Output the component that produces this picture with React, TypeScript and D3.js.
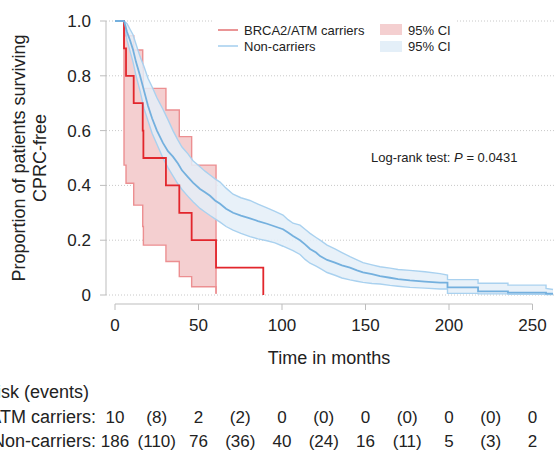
import React from "react";
import * as d3 from "d3";

const W = 556;
const H = 450;

// BRCA2/ATM carriers (n = 10), Kaplan-Meier steps
const carrierTime = [0, 5.4, 6.6, 11.2, 16.6, 17.0, 30.5, 38.5, 45.9, 60.5, 88.8];
const carrierSurv = [1, 0.9, 0.8, 0.7, 0.6, 0.5, 0.4, 0.3, 0.2, 0.1, 0];
const carrierCiTime = [0, 5.4, 6.6, 11.2, 16.6, 17.0, 30.5, 38.5, 45.9, 60.5];
const carrierUpper = [1, 0.985, 0.946, 0.894, 0.83, 0.754, 0.675, 0.578, 0.474, 0.005];
const carrierLower = [1, 0.474, 0.408, 0.328, 0.25, 0.182, 0.122, 0.067, 0.03, 0.005];

// Non-carriers (n = 186)
const ncTime = [
  0, 5.4, 7.2, 9.0, 10.8, 12.6, 15.0, 17.4, 19.8, 22.2, 25.1, 28.7, 31.7, 34.7, 37.7,
  40.1, 43.7, 46.7, 50.9, 53.9, 56.9, 59.9, 62.9, 66.5, 70.7, 75.4, 80.8, 85.6, 91.0,
  95.8, 100.6, 103.6, 106.6, 110.8, 113.8, 116.8, 120.4, 122.8, 127.0, 131.7, 135.9,
  140.7, 144.9, 148.5, 153.9, 158.7, 164.7, 169.5, 176.6, 185.6, 194.6, 199.1, 199.1,
  217.4, 217.4, 235.3, 235.3, 258.1, 258.1, 262.3,
];
const ncSurv = [
  1, 1, 0.96, 0.93, 0.895, 0.85, 0.8, 0.745, 0.69, 0.645, 0.6, 0.555, 0.525, 0.505, 0.48,
  0.455, 0.43, 0.41, 0.387, 0.375, 0.362, 0.345, 0.333, 0.315, 0.3, 0.29, 0.28, 0.27, 0.26,
  0.25, 0.24, 0.228, 0.215, 0.2, 0.185, 0.168, 0.155, 0.142, 0.128, 0.118, 0.108,
  0.1, 0.09, 0.083, 0.076, 0.069, 0.063, 0.058, 0.053, 0.049, 0.045, 0.045, 0.028,
  0.028, 0.013, 0.013, 0.009, 0.009, 0.005, 0.005,
];
const ncUpper = [
  1, 1, 0.99, 0.97, 0.95, 0.915, 0.87, 0.833, 0.79, 0.76, 0.72, 0.678, 0.64, 0.6, 0.565,
  0.54, 0.515, 0.49, 0.468, 0.452, 0.438, 0.424, 0.412, 0.39, 0.368, 0.355, 0.345, 0.332, 0.318,
  0.305, 0.292, 0.275, 0.262, 0.255, 0.24, 0.225, 0.21, 0.2, 0.182, 0.168, 0.155,
  0.14, 0.128, 0.118, 0.11, 0.103, 0.098, 0.093, 0.09, 0.085, 0.078, 0.073, 0.056,
  0.056, 0.043, 0.043, 0.036, 0.036, 0.024, 0.02,
];
const ncLower = [
  1, 1, 0.93, 0.89, 0.85, 0.8, 0.745, 0.68, 0.635, 0.59, 0.55, 0.5, 0.465, 0.435, 0.405,
  0.385, 0.36, 0.34, 0.316, 0.303, 0.29, 0.278, 0.266, 0.25, 0.237, 0.225, 0.213, 0.205, 0.198,
  0.19, 0.178, 0.17, 0.162, 0.148, 0.13, 0.116, 0.105, 0.097, 0.082, 0.072, 0.062,
  0.055, 0.05, 0.046, 0.042, 0.04, 0.035, 0.032, 0.028, 0.025, 0.022, 0.022, 0.006,
  0.006, 0.004, 0.004, 0.003, 0.003, 0.002, 0.002,
];

const xTicks = [0, 50, 100, 150, 200, 250];
const yTicks = [0, 0.2, 0.4, 0.6, 0.8, 1.0];

// number at risk (events) table
const riskTimes = [0, 25, 50, 75, 100, 125, 150, 175, 200, 225, 250];
const carrierRisk = ["10", "(8)", "2", "(2)", "0", "(0)", "0", "(0)", "0", "(0)", "0"];
const nonCarrierRisk = ["186", "(110)", "76", "(36)", "40", "(24)", "16", "(11)", "5", "(3)", "2"];

const FONT = "'Liberation Sans', Arial, Helvetica, sans-serif";
const RED = "#e2262c";
const PINK_FILL = "#f4cfd0";
const PINK_LINE = "#ec8f91";
const BLUE = "#74b0de";
const BLUE_FILL = "#e4eff8";
const BLUE_LINE = "#a9d1ef";

export default function App() {
  const x = d3.scaleLinear().domain([0, 250]).range([115, 532.5]);
  const y = d3.scaleLinear().domain([0, 1]).range([295, 21]);

  const cBand = carrierCiTime.map((t, i) => ({ t, lo: carrierLower[i], hi: carrierUpper[i] }));
  const cLine = carrierTime.map((t, i) => ({ t, s: carrierSurv[i] }));
  const nBand = ncTime.map((t, i) => ({ t, s: ncSurv[i], lo: ncLower[i], hi: ncUpper[i] }));

  const stepArea = d3
    .area<any>()
    .curve(d3.curveStepAfter)
    .x((d) => x(d.t))
    .y0((d) => y(d.lo))
    .y1((d) => y(d.hi));
  const stepLine = (key: string) =>
    d3
      .line<any>()
      .curve(d3.curveStepAfter)
      .x((d) => x(d.t))
      .y((d) => y(d[key]));

  const ncArea = d3
    .area<any>()
    .x((d) => x(d.t))
    .y0((d) => y(d.lo))
    .y1((d) => y(d.hi));
  const ncLine = (key: string) =>
    d3
      .line<any>()
      .x((d) => x(d.t))
      .y((d) => y(d[key]));

  return (
    <div style={{ position: "absolute", left: 0, top: 0 }}>
      <svg width={W} height={H} style={{ display: "block", fontFamily: FONT }}>
        <rect width={W} height={H} fill="#fff" />

        {/* grid */}
        {yTicks.map((v) => (
          <line
            key={"g" + v}
            x1={106}
            x2={W}
            y1={y(v)}
            y2={y(v)}
            stroke="#c8c8c8"
            strokeWidth={1}
            strokeDasharray="1,2"
          />
        ))}

        {/* carriers CI */}
        <path d={stepArea(cBand) || ""} fill={PINK_FILL} stroke="none" />
        <path d={stepLine("hi")(cBand) || ""} fill="none" stroke={PINK_LINE} strokeWidth={1.4} />
        <path d={stepLine("lo")(cBand) || ""} fill="none" stroke={PINK_LINE} strokeWidth={1.4} />

        {/* non-carriers CI */}
        <path d={ncArea(nBand) || ""} fill={BLUE_FILL} fillOpacity={0.85} stroke="none" />
        <path d={ncLine("hi")(nBand) || ""} fill="none" stroke={BLUE_LINE} strokeWidth={1.4} />
        <path d={ncLine("lo")(nBand) || ""} fill="none" stroke={BLUE_LINE} strokeWidth={1.4} />

        {/* survival curves */}
        <path d={stepLine("s")(cLine) || ""} fill="none" stroke={RED} strokeWidth={1.8} />
        <path d={ncLine("s")(nBand) || ""} fill="none" stroke={BLUE} strokeWidth={1.8} />

        {/* y axis */}
        <line x1={106} x2={106} y1={y(1)} y2={y(0)} stroke="#bdbdbd" />
        {yTicks.map((v) => (
          <g key={"y" + v}>
            <line x1={100} x2={106} y1={y(v)} y2={y(v)} stroke="#bdbdbd" />
            <text x={91} y={y(v)} dy="0.35em" textAnchor="end" fontSize={17} fill="#222">
              {v === 0 ? "0" : v.toFixed(1)}
            </text>
          </g>
        ))}
        <text
          transform={`translate(25,${(y(0) + y(1)) / 2}) rotate(-90)`}
          textAnchor="middle"
          fontSize={18}
          fill="#222"
        >
          Proportion of patients surviving
        </text>
        <text
          transform={`translate(46,${(y(0) + y(1)) / 2}) rotate(-90)`}
          textAnchor="middle"
          fontSize={18}
          fill="#222"
        >
          CPRC-free
        </text>

        {/* x axis */}
        <line x1={x(0)} x2={x(250)} y1={304} y2={304} stroke="#bdbdbd" />
        {xTicks.map((v) => (
          <g key={"x" + v}>
            <line x1={x(v)} x2={x(v)} y1={304} y2={310} stroke="#bdbdbd" />
            <text x={x(v)} y={331} textAnchor="middle" fontSize={17} fill="#222">
              {v}
            </text>
          </g>
        ))}
        <text x={329} y={364} textAnchor="middle" fontSize={18} fill="#222">
          Time in months
        </text>

        {/* legend */}
        <rect x={213} y={12} width={242} height={44} fill="#fff" />
        <line x1={218} x2={238} y1={30} y2={30} stroke="#e57a7c" strokeWidth={1.6} />
        <text x={244} y={35} fontSize={13} fill="#222">
          BRCA2/ATM carriers
        </text>
        <line x1={218} x2={238} y1={46} y2={46} stroke={BLUE_LINE} strokeWidth={1.6} />
        <text x={244} y={51} fontSize={13} fill="#222">
          Non-carriers
        </text>
        <rect x={380} y={24} width={22} height={11} fill={PINK_FILL} />
        <text x={408} y={35} fontSize={13} fill="#222">
          95% CI
        </text>
        <rect x={380} y={41} width={22} height={11} fill={BLUE_FILL} />
        <text x={408} y={51} fontSize={13} fill="#222">
          95% CI
        </text>

        <text x={371} y={162} fontSize={13} fill="#222">
          Log-rank test: <tspan fontStyle="italic">P</tspan> = 0.0431
        </text>

        {/* risk table */}
        <text x={89} y={398} textAnchor="end" fontSize={18} fill="#222">
          Number at risk (events)
        </text>
        <text x={96} y={423} textAnchor="end" fontSize={18} fill="#222">
          BRCA2/ATM carriers:
        </text>
        <text x={96} y={447} textAnchor="end" fontSize={18} fill="#222">
          Non-carriers:
        </text>
        {riskTimes.map((t, i) => (
          <g key={"r" + t}>
            <text x={x(t)} y={423} textAnchor="middle" fontSize={17} fill="#222">
              {carrierRisk[i]}
            </text>
            <text x={x(t)} y={447} textAnchor="middle" fontSize={17} fill="#222">
              {nonCarrierRisk[i]}
            </text>
          </g>
        ))}
      </svg>
    </div>
  );
}
